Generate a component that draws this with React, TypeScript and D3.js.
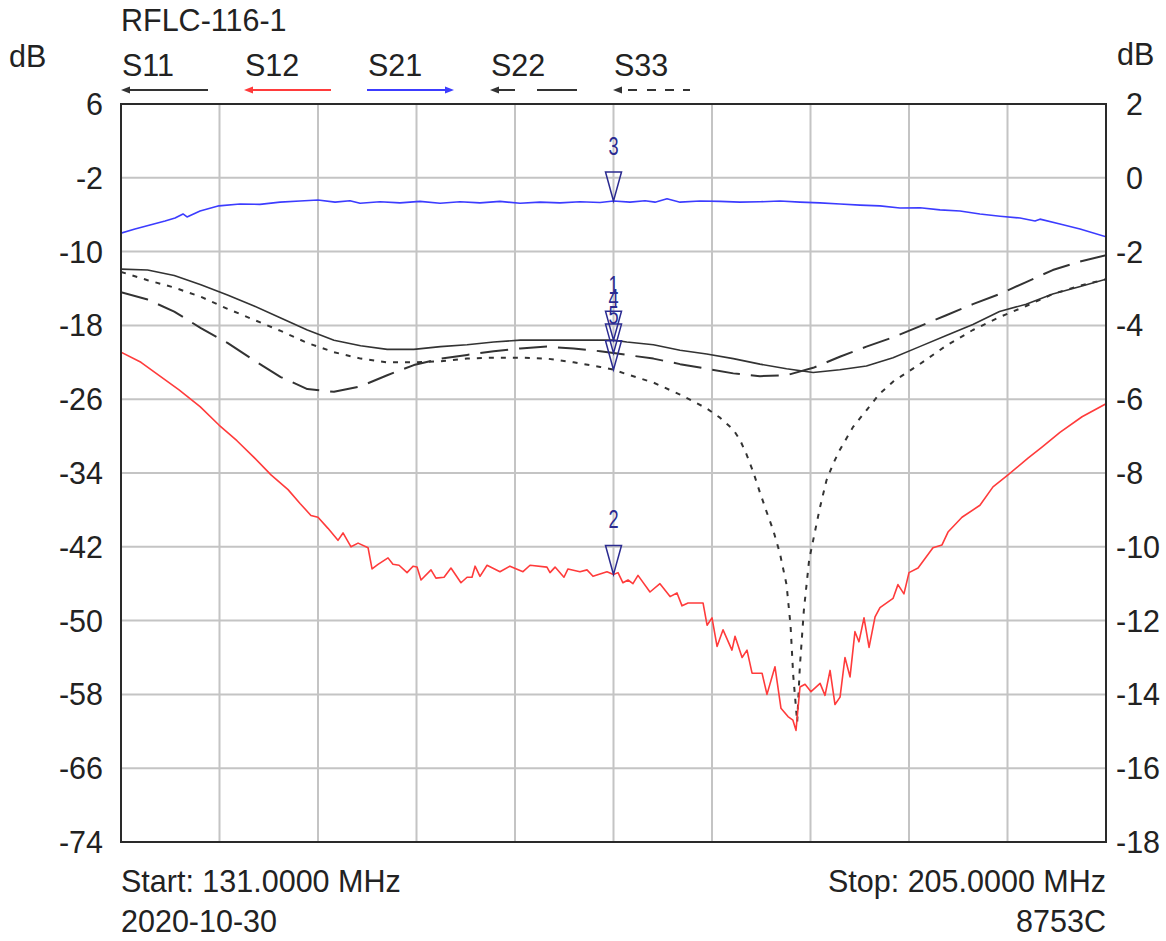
import React, { useRef, useEffect } from 'react';
import * as d3 from 'd3';

const W = 1166;
const H = 941;
const FONT = "'Liberation Sans', Arial, sans-serif";

const title = 'RFLC-116-1';
const startMHz = 131;
const stopMHz = 205;
const markerMHz = 168;
const leftTicks = [6, -2, -10, -18, -26, -34, -42, -50, -58, -66, -74];
const rightTicks = [2, 0, -2, -4, -6, -8, -10, -12, -14, -16, -18];
const bottomLeft = ['Start: 131.0000 MHz', '2020-10-30'];
const bottomRight = ['Stop: 205.0000 MHz', '8753C'];

// [MHz, dB]
const s11 = [
  [131, -11.9], [133, -12.0], [135, -12.6], [137, -13.6], [139, -14.7], [141, -15.9],
  [143, -17.2], [145, -18.5], [147, -19.6], [149, -20.2], [151, -20.6], [153, -20.6],
  [155, -20.3], [157, -20.1], [159, -19.8], [161, -19.6], [163, -19.6], [165, -19.6],
  [167, -19.6], [168, -19.6], [169, -19.8], [171, -20.1], [173, -20.7], [175, -21.1],
  [177, -21.6], [179, -22.2], [181, -22.7], [183, -23.1], [185, -22.8], [187, -22.4],
  [189, -21.5], [191, -20.3], [193, -19.1], [195, -17.9], [197, -16.5], [199, -15.7],
  [201, -14.6], [203, -13.8], [205, -13.0],
];

const s22 = [
  [131, -14.4], [133, -15.2], [135, -16.5], [137, -18.3], [139, -19.9], [141, -21.8],
  [143, -23.6], [145, -24.9], [147, -25.2], [149, -24.6], [151, -23.4], [153, -22.3],
  [155, -21.6], [157, -21.2], [159, -20.8], [161, -20.5], [163, -20.3], [165, -20.5],
  [167, -20.8], [168, -21.0], [169, -21.2], [171, -21.6], [173, -22.2], [175, -22.7],
  [177, -23.2], [179, -23.5], [181, -23.4], [183, -22.6], [185, -21.4], [187, -20.3],
  [189, -19.3], [191, -18.1], [193, -16.9], [195, -15.7], [197, -14.6], [199, -13.3],
  [201, -12.0], [203, -11.1], [205, -10.4],
];

const s33 = [
  [131, -12.2], [133, -13.1], [135, -13.9], [137, -14.9], [139, -16.2], [141, -17.4],
  [143, -18.6], [145, -19.9], [147, -20.9], [149, -21.6], [151, -22.0], [153, -22.0],
  [155, -21.9], [157, -21.6], [159, -21.5], [161, -21.5], [163, -21.6], [165, -22.0],
  [167, -22.5], [168, -22.8], [169, -23.3], [171, -24.2], [173, -25.5], [175, -27.0],
  [176, -28.0], [177, -29.3], [177.5, -30.4], [178, -32.0], [178.5, -33.9], [179, -36.1],
  [179.5, -38.2], [180, -40.2], [180.5, -42.7], [181, -46.1], [181.3, -50.5],
  [181.5, -55.9], [181.8, -61.0], [182, -55.0], [182.3, -48.9], [182.7, -43.4],
  [183, -41.3], [183.5, -37.8], [184, -34.8], [184.5, -33.0], [185, -31.5], [186, -29.0],
  [187, -27.2], [188, -25.4], [189, -24.1], [191, -22.2], [193, -20.2], [195, -18.5],
  [197, -17.1], [199, -15.9], [201, -14.6], [203, -13.7], [205, -13.0],
];

const s12 = [
  [131.0, -20.9], [132.5, -22.0], [133.93, -23.5], [135.36, -25.0], [136.94, -26.8],
  [138.36, -28.8], [139.71, -30.5], [140.99, -32.3], [142.27, -34.2], [143.55, -35.8],
  [144.45, -37.3], [145.27, -38.6], [145.8, -38.8], [146.55, -40.0], [147.3, -41.3],
  [147.68, -40.5], [148.28, -42.0], [148.81, -41.6], [149.56, -42.1], [149.86, -44.4],
  [150.31, -43.9], [151.06, -43.2], [151.43, -43.9], [151.89, -44.0], [152.49, -44.8],
  [152.94, -44.1], [153.24, -44.2], [153.54, -45.6], [154.29, -44.5], [154.66, -45.4],
  [155.27, -45.3], [155.79, -44.3], [156.54, -45.9], [157.0, -45.3], [157.37, -45.3],
  [157.6, -44.1], [157.97, -45.2], [158.5, -44.0], [159.47, -44.7], [160.22, -44.1],
  [161.2, -44.7], [161.73, -44.0], [163.0, -44.2], [163.23, -44.8], [163.61, -44.2],
  [164.28, -45.3], [164.58, -44.4], [165.48, -44.7], [166.01, -44.5], [166.46, -45.2],
  [167.51, -44.7], [168.0, -45.0], [168.34, -44.8], [168.71, -45.9], [169.09, -45.6],
  [169.46, -46.0], [169.84, -45.1], [170.74, -46.9], [171.49, -46.0], [172.25, -47.4],
  [172.77, -47.0], [173.15, -48.4], [173.6, -48.1], [174.73, -48.1], [175.03, -50.5],
  [175.4, -49.7], [175.78, -52.8], [176.23, -51.0], [176.9, -53.2], [177.13, -51.7],
  [177.66, -54.0], [178.03, -53.2], [178.41, -55.7], [179.16, -55.7], [179.53, -58.0],
  [180.13, -55.0], [180.58, -59.5], [181.11, -60.4], [181.48, -60.8], [181.71, -61.9],
  [182.01, -57.2], [182.39, -56.9], [182.84, -57.7], [183.52, -56.8], [183.89, -58.1],
  [184.27, -55.4], [184.64, -59.1], [185.02, -58.3], [185.39, -54.0], [185.77, -56.1],
  [186.14, -51.2], [186.44, -52.3], [186.82, -49.7], [187.2, -52.9], [187.65, -49.6],
  [188.02, -48.6], [189.0, -47.6], [189.37, -46.1], [189.82, -47.1], [190.2, -44.8],
  [190.88, -44.3], [192.0, -42.1], [192.68, -41.8], [193.13, -40.4], [194.18, -38.8],
  [195.53, -37.5], [196.51, -35.5], [197.64, -34.2], [199.14, -32.4], [200.19, -31.2],
  [201.54, -29.6], [203.2, -27.9], [205.0, -26.5],
];

// right axis
const s21 = [
  [131.0, -1.5], [132.05, -1.39], [133.18, -1.28], [134.31, -1.17], [135.06, -1.09],
  [135.66, -0.98], [135.96, -1.06], [136.94, -0.9], [138.36, -0.76], [139.94, -0.71],
  [141.44, -0.72], [142.95, -0.66], [144.45, -0.63], [145.8, -0.6], [147.08, -0.66],
  [148.2, -0.62], [148.96, -0.69], [150.46, -0.65], [151.96, -0.68], [153.46, -0.64],
  [154.97, -0.69], [156.47, -0.65], [157.97, -0.68], [159.47, -0.64], [160.98, -0.69],
  [162.48, -0.66], [163.98, -0.68], [165.48, -0.65], [166.99, -0.67], [168.0, -0.63],
  [169.24, -0.66], [170.37, -0.62], [171.12, -0.66], [172.02, -0.57], [173.0, -0.66],
  [174.5, -0.63], [176.0, -0.64], [177.5, -0.66], [179.01, -0.65], [180.51, -0.63],
  [182.01, -0.66], [183.51, -0.68], [185.02, -0.71], [186.52, -0.74], [188.02, -0.76],
  [189.52, -0.82], [191.03, -0.81], [192.53, -0.87], [194.03, -0.9], [195.53, -0.98],
  [197.04, -1.04], [198.54, -1.09], [199.67, -1.17], [200.04, -1.12], [201.54, -1.25],
  [203.05, -1.39], [205.0, -1.6],
];

const series = [
  { name: 'S11', data: s11, axis: 'L', color: '#333333', dash: null, dir: 'L', marker: 1, legendDash: null },
  { name: 'S12', data: s12, axis: 'L', color: '#ff3b3b', dash: null, dir: 'L', marker: 2, legendDash: null },
  { name: 'S21', data: s21, axis: 'R', color: '#3c3cff', dash: null, dir: 'R', marker: 3, legendDash: null },
  { name: 'S22', data: s22, axis: 'L', color: '#333333', dash: '28,11', dir: 'L', marker: 4, legendDash: '19,22,40,60' },
  { name: 'S33', data: s33, axis: 'L', color: '#333333', dash: '5,7', dir: 'L', marker: 5, legendDash: '0,9,9,10,9,9,9,9,7,20' },
];

const Chart = () => {
  const svgRef = useRef<SVGSVGElement>(null);

  useEffect(() => {
    const svg = d3.select(svgRef.current);
    svg.selectAll('*').remove();

    const left = 121, right = 1106, top = 104, bottom = 842;
    const x = d3.scaleLinear().domain([startMHz, stopMHz]).range([left, right]);
    const yL = d3.scaleLinear().domain([-74, 6]).range([bottom, top]);
    const yR = d3.scaleLinear().domain([-18, 2]).range([bottom, top]);
    const textColor = '#222';
    const fs = '30.5px';

    svg.append('rect').attr('width', W).attr('height', H).attr('fill', '#fff');

    // grid
    const xGrid = d3.range(1, 10).map(i => startMHz + (stopMHz - startMHz) * i / 10);
    svg.append('g').selectAll('line').data(xGrid).join('line')
      .attr('x1', d => x(d)).attr('x2', d => x(d))
      .attr('y1', top).attr('y2', bottom)
      .attr('stroke', '#c4c4c4').attr('stroke-width', 2);
    svg.append('g').selectAll('line').data(leftTicks.slice(1, -1)).join('line')
      .attr('x1', left).attr('x2', right)
      .attr('y1', d => yL(d)).attr('y2', d => yL(d))
      .attr('stroke', '#c4c4c4').attr('stroke-width', 2);

    // tick labels
    svg.append('g').selectAll('text').data(leftTicks).join('text')
      .attr('x', 103).attr('y', d => yL(d) + 11)
      .attr('text-anchor', 'end')
      .style('font', `${fs} ${FONT}`).attr('fill', textColor)
      .text(d => d);
    svg.append('g').selectAll('text').data(rightTicks).join('text')
      .attr('x', d => (d >= 0 ? 1126 : 1116)).attr('y', d => yR(d) + 11)
      .style('font', `${fs} ${FONT}`).attr('fill', textColor)
      .text(d => d);

    svg.append('text').attr('x', 9).attr('y', 67)
      .style('font', `${fs} ${FONT}`).attr('fill', textColor).text('dB');
    svg.append('text').attr('x', 1117).attr('y', 65)
      .style('font', `${fs} ${FONT}`).attr('fill', textColor).text('dB');
    svg.append('text').attr('x', 121).attr('y', 31)
      .style('font', `${fs} ${FONT}`).attr('fill', textColor).text(title);

    bottomLeft.forEach((t, i) => {
      svg.append('text').attr('x', 121).attr('y', 892 + i * 40)
        .style('font', `${fs} ${FONT}`).attr('fill', textColor).text(t);
    });
    bottomRight.forEach((t, i) => {
      svg.append('text').attr('x', 1106).attr('y', 892 + i * 40)
        .attr('text-anchor', 'end')
        .style('font', `${fs} ${FONT}`).attr('fill', textColor).text(t);
    });

    // legend
    series.forEach((s, i) => {
      const lx = 121 + i * 123;
      svg.append('text').attr('x', lx + 1).attr('y', 76)
        .style('font', `${fs} ${FONT}`).attr('fill', textColor).text(s.name);
      const x0 = lx, x1 = lx + (s.legendDash && s.dash === '5,7' ? 80 : 87);
      svg.append('line')
        .attr('x1', s.dir === 'L' ? x0 + 6 : x0).attr('x2', s.dir === 'L' ? x1 : x1 - 6)
        .attr('y1', 90).attr('y2', 90)
        .attr('stroke', s.color).attr('stroke-width', 2)
        .attr('stroke-dasharray', s.legendDash);
      const tip = s.dir === 'L' ? x0 : x1;
      const back = s.dir === 'L' ? tip + 9 : tip - 9;
      svg.append('path')
        .attr('d', `M${tip},90L${back},86.5L${back},93.5Z`)
        .attr('fill', s.color);
    });

    // traces
    svg.append('clipPath').attr('id', 'plotClip')
      .append('rect').attr('x', left).attr('y', top)
      .attr('width', right - left).attr('height', bottom - top);
    const g = svg.append('g').attr('clip-path', 'url(#plotClip)');
    const drawOrder = [series[3], series[4], series[0], series[1], series[2]];
    drawOrder.forEach(s => {
      const yy = s.axis === 'L' ? yL : yR;
      const line = d3.line<number[]>().x(d => x(d[0])).y(d => yy(d[1]));
      g.append('path').datum(s.data)
        .attr('d', line)
        .attr('fill', 'none')
        .attr('stroke', s.color)
        .attr('stroke-width', s.dash ? 2 : 1.6)
        .attr('stroke-dasharray', s.dash)
        .attr('stroke-linejoin', 'round');
    });

    // border
    svg.append('rect').attr('x', left).attr('y', top)
      .attr('width', right - left).attr('height', bottom - top)
      .attr('fill', 'none').attr('stroke', '#2a2a2a').attr('stroke-width', 2);

    // markers
    const markerColor = '#2b2b90';
    const markerOrder = [series[2], series[1], series[0], series[3], series[4]];
    markerOrder.forEach(s => {
      const yy = s.axis === 'L' ? yL : yR;
      const pt = s.data.find(d => d[0] === markerMHz) as number[];
      const mx = x(markerMHz);
      const my = yy(pt[1]);
      svg.append('path')
        .attr('d', `M${mx},${my}L${mx - 8},${my - 29}L${mx + 8},${my - 29}Z`)
        .attr('fill', 'none').attr('stroke', markerColor).attr('stroke-width', 1.5);
      svg.append('text')
        .attr('transform', `translate(${mx},${my - 46}) scale(0.7,1)`)
        .attr('text-anchor', 'middle')
        .style('font', `26px ${FONT}`).attr('fill', markerColor)
        .text(s.marker);
    });
  }, []);

  return <svg ref={svgRef} width={W} height={H} style={{ display: 'block' }}></svg>;
};

export default function App() {
  return (
    <div style={{ position: 'absolute', left: 0, top: 0 }}>
      <Chart />
    </div>
  );
}
